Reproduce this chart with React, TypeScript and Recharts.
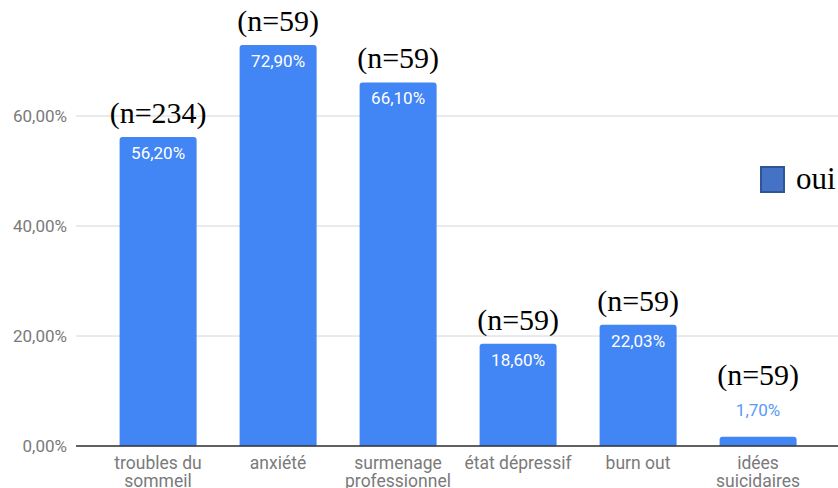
import React from "react";
import { BarChart, Bar, XAxis, YAxis, CartesianGrid, Rectangle } from "recharts";

const categories = [
  ["troubles du", "sommeil"],
  ["anxiété"],
  ["surmenage", "professionnel"],
  ["état dépressif"],
  ["burn out"],
  ["idées", "suicidaires"],
];
const values = [56.2, 72.9, 66.1, 18.6, 22.03, 1.7];
const valueLabels = ["56,20%", "72,90%", "66,10%", "18,60%", "22,03%", "1,70%"];
const nLabels = ["(n=234)", "(n=59)", "(n=59)", "(n=59)", "(n=59)", "(n=59)"];
const yTicks = [0, 20, 40, 60];
const yTickLabels = ["0,00%", "20,00%", "40,00%", "60,00%"];
const seriesName = "oui";

const data = values.map((v, i) => ({
  name: categories[i].join(" "),
  value: v,
  valueLabel: valueLabels[i],
  n: nLabels[i],
}));

const BLUE = "#4285f4";
const GREY = "#7a7a7a";
const SANS = "Roboto, Arial, sans-serif";
const SERIF = '"Liberation Serif", "Times New Roman", serif';

function BarShape(props: any) {
  const { x, y, width, height, payload } = props;
  const cx = x + width / 2;
  const inside = height > 30;
  const nBase = inside ? y - 14 : y - 52;
  return (
    <g>
      <Rectangle x={x} y={y} width={width} height={height} fill={BLUE} radius={[3, 3, 0, 0]} />
      <text
        x={cx}
        y={inside ? y + 22 : y - 21}
        textAnchor="middle"
        fill={inside ? "#ffffff" : "#5a9af8"}
        fontFamily={SANS}
        fontSize={17}
      >
        {payload.valueLabel}
      </text>
      <text x={cx} y={nBase} textAnchor="middle" fill="#000" fontFamily={SERIF} fontSize={30}>
        {payload.n}
      </text>
    </g>
  );
}

function YTick(props: any) {
  const { y, payload } = props;
  const i = yTicks.indexOf(payload.value);
  return (
    <text x={67} y={y} dy={6} textAnchor="end" fill={GREY} fontFamily={SANS} fontSize={17}>
      {yTickLabels[i]}
    </text>
  );
}

function XTick(props: any) {
  const { x, y, index } = props;
  const lines = categories[index] || [];
  return (
    <text x={x} y={y} textAnchor="middle" fill={GREY} fontFamily={SANS} fontSize={17.5}>
      {lines.map((l, k) => (
        <tspan key={k} x={x} dy={k === 0 ? 15 : 18}>
          {l}
        </tspan>
      ))}
    </text>
  );
}

export default function App() {
  return (
    <div style={{ position: "absolute", left: 0, top: 0, width: 838, height: 488, background: "#fff" }}>
      <BarChart
        width={838}
        height={488}
        data={data}
        margin={{ top: 6, right: 0, bottom: 0, left: 0 }}
        barCategoryGap="18%"
      >
        <CartesianGrid vertical={false} horizontalValues={yTicks} stroke="#d6d6d6" />
        <XAxis
          dataKey="name"
          height={42}
          padding={{ left: 22, right: 20 }}
          axisLine={{ stroke: "#333", strokeWidth: 1.5 }}
          tickLine={false}
          interval={0}
          tick={<XTick />}
        />
        <YAxis
          width={76}
          domain={[0, 80]}
          ticks={yTicks}
          axisLine={false}
          tickLine={false}
          tick={<YTick />}
        />
        <Bar dataKey="value" name={seriesName} shape={<BarShape />} isAnimationActive={false} />
      </BarChart>
      <div style={{ position: "absolute", left: 760, top: 164, display: "flex", alignItems: "center" }}>
        <div
          style={{
            width: 25,
            height: 27,
            background: "#4472c4",
            border: "2px solid #2f5597",
            boxSizing: "border-box",
            marginRight: 11,
          }}
        />
        <span style={{ fontFamily: SERIF, fontSize: 31, color: "#000", lineHeight: "30px" }}>{seriesName}</span>
      </div>
    </div>
  );
}
